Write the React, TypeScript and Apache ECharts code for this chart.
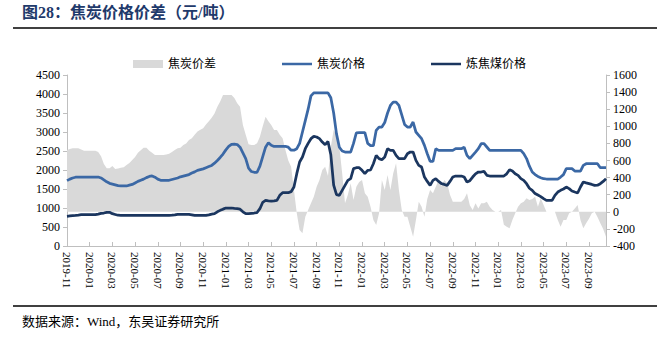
import React, { useEffect, useRef } from "react";
import * as echarts from "echarts";

// Month tick labels (one category per week, four per month)
const monthLabels: string[] = [
  "2019-11", "2019-12",
  "2020-01", "2020-02", "2020-03", "2020-04", "2020-05", "2020-06",
  "2020-07", "2020-08", "2020-09", "2020-10", "2020-11", "2020-12",
  "2021-01", "2021-02", "2021-03", "2021-04", "2021-05", "2021-06",
  "2021-07", "2021-08", "2021-09", "2021-10", "2021-11", "2021-12",
  "2022-01", "2022-02", "2022-03", "2022-04", "2022-05", "2022-06",
  "2022-07", "2022-08", "2022-09", "2022-10", "2022-11", "2022-12",
  "2023-01", "2023-02", "2023-03", "2023-04", "2023-05", "2023-06",
  "2023-07", "2023-08", "2023-09", "2023-10",
];
const weeksPerMonth = 4;
const pointCount = 191;
const categories: string[] = monthLabels
  .flatMap((m) => [m, m + " W2", m + " W3", m + " W4"])
  .slice(0, pointCount);

// 焦炭价格 (元/吨, left axis)
const cokePrice: number[] = [
  1720, 1760, 1790, 1810, 1815, 1815, 1815, 1815, 1815, 1815, 1815, 1815,
  1790, 1740, 1690, 1650, 1630, 1610, 1590, 1580, 1580, 1580, 1600, 1620,
  1660, 1700, 1730, 1760, 1800, 1830, 1845, 1810, 1760, 1730, 1730, 1730,
  1730, 1750, 1770, 1790, 1820, 1840, 1860, 1880, 1920, 1950, 1990, 2010,
  2030, 2060, 2090, 2120, 2180, 2250, 2330, 2420, 2530, 2620, 2675, 2680,
  2670, 2600, 2450, 2300, 2050, 1960, 1940, 1940, 2100, 2350, 2600, 2720,
  2650, 2620, 2620, 2620, 2620, 2620, 2600, 2520, 2520, 2560, 2700, 3000,
  3300, 3600, 3950, 4030, 4030, 4030, 4030, 4030, 4030, 3900, 3500, 2950,
  2600, 2500, 2473, 2473, 2473, 2700, 2980, 2985, 2985, 2985, 2700, 2640,
  2640, 3043, 3131, 3131, 3250, 3500, 3700, 3789, 3789, 3700, 3450, 3200,
  3131, 3131, 3262, 3000, 2912, 2824, 2649, 2429, 2228, 2228, 2561, 2517,
  2517, 2517, 2517, 2517, 2517, 2561, 2561, 2561, 2600, 2385, 2298, 2385,
  2470, 2561, 2692, 2692, 2605, 2517, 2517, 2517, 2517, 2517, 2517, 2517,
  2517, 2517, 2517, 2517, 2517, 2430, 2300, 2100, 1947, 1880, 1830, 1798,
  1770, 1763, 1763, 1763, 1763, 1763, 1815, 1877, 2035, 2035, 2035, 1973,
  1973, 1973, 2122, 2166, 2166, 2166, 2166, 2166, 2061, 2061, 2061,
];

// 炼焦煤价格 (元/吨, left axis)
const coalPrice: number[] = [
  780, 790, 800, 807, 815, 824, 824, 824, 824, 824, 824, 840,
  860, 868, 886, 886, 850, 830, 810, 807, 807, 807, 807, 807,
  807, 807, 807, 807, 807, 807, 807, 807, 807, 807, 807, 807,
  807, 810, 820, 833, 833, 833, 833, 833, 820, 807, 807, 807,
  807, 807, 820, 840, 850, 900, 938, 970, 1000, 1000, 1000, 990,
  982, 970, 900, 850, 850, 860, 868, 880, 982, 1150, 1200, 1190,
  1184, 1190, 1200, 1333, 1403, 1403, 1403, 1430, 1552, 1903, 2210, 2342,
  2561, 2700, 2824, 2885, 2868, 2824, 2736, 2666, 2750, 2400, 1600, 1350,
  1333, 1465, 1596, 1728, 1772, 2035, 2061, 2061, 1991, 1903, 1991, 2000,
  2166, 2385, 2300, 2271, 2342, 2561, 2517, 2517, 2385, 2298, 2298, 2298,
  2429, 2473, 2473, 2254, 2122, 2078, 1815, 1700, 1596, 1728, 1772, 1700,
  1640, 1620, 1596, 1700, 1815, 1842, 1842, 1842, 1815, 1684, 1720, 1815,
  1900, 1947, 1947, 1965, 1860, 1842, 1842, 1842, 1842, 1842, 1842, 1900,
  2008, 1973, 1900, 1859, 1772, 1728, 1640, 1520, 1465, 1380, 1340, 1300,
  1245, 1201, 1201, 1201, 1333, 1420, 1465, 1500, 1552, 1510, 1447, 1420,
  1394, 1552, 1684, 1660, 1640, 1620, 1596, 1600, 1640, 1700, 1772,
];

// 焦炭价差 (元/吨, right axis)
const cokeSpread: number[] = [
  723, 735, 742, 742, 742, 730, 715, 715, 715, 715, 715, 700,
  650, 560, 510, 508, 535, 500, 505, 515, 520, 547, 570, 606,
  640, 690, 720, 750, 750, 715, 690, 665, 665, 665, 665, 670,
  680, 700, 723, 742, 750, 781, 800, 840, 860, 900, 938, 960,
  977, 1020, 1060, 1100, 1150, 1230, 1290, 1366, 1366, 1366, 1366, 1330,
  1269, 1230, 1015, 900, 790, 781, 781, 801, 879, 1000, 1113, 1060,
  1015, 957, 957, 900, 859, 723, 600, 528, 255, -18, -213, -252,
  -57, 20, 100, 177, 294, 372, 489, 528, 420, 760, 957, 900,
  760, 450, 100, 200, 333, 138, 294, 350, 372, 216, 177, 60,
  -96, -155, -18, 372, 255, 430, 255, 450, 567, 255, 21, -57,
  -57, -174, -291, -96, 119, 60, -57, 150, 255, 216, 294, 372,
  300, 372, 333, 200, 119, 119, 119, 119, 150, 216, 78, 20,
  99, 40, 99, 99, 119, 60, 20, 0, 0, 20, -150, -174,
  -193, -96, -18, 60, 99, 119, 158, 138, 150, 177, 60, 158,
  80, 0, 0, 0, 0, -96, -174, -96, -96, -18, 0, 40,
  79, -96, -193, -135, -80, -18, 0, -60, -135, -200, -291,
];

const leftTicks = { min: 0, max: 4500, interval: 500 };
const rightTicks = { min: -400, max: 1600, interval: 200 };

const serif = "'Liberation Serif', 'Noto Sans CJK SC', serif";
const AXIS_GREY = "#bfbfbf";
const COKE_BLUE = "#3b68a5";
const COAL_NAVY = "#1b365f";
const SPREAD_GREY = "#d9d9d9";
// thin bar inside a 30x8 legend box (invisible corner points keep the box size)
const LINE_ICON = "path://M0,0L0,0M0,2.75L30,2.75L30,5.25L0,5.25ZM30,8L30,8";

export default function App() {
  const ref = useRef<HTMLDivElement>(null);

  useEffect(() => {
    if (!ref.current) return;
    const chart = echarts.init(ref.current, undefined, { renderer: "svg" });
    const showTick = (i: number) => i % (weeksPerMonth * 2) === 0;

    chart.setOption({
      animation: false,
      backgroundColor: "#ffffff",
      grid: { left: 67, right: 51, top: 75, bottom: 91, containLabel: false },
      legend: {
        left: 128,
        top: 53,
        itemWidth: 30,
        itemHeight: 8,
        itemGap: 66,
        textStyle: { fontFamily: serif, fontSize: 12, color: "#000" },
        data: [
          { name: "焦炭价差", icon: "rect" },
          { name: "焦炭价格", icon: LINE_ICON },
          { name: "炼焦煤价格", icon: LINE_ICON },
        ],
      },
      xAxis: {
        type: "category",
        data: categories,
        boundaryGap: false,
        axisLine: { onZero: false, lineStyle: { color: AXIS_GREY, width: 1 } },
        axisTick: {
          show: true,
          inside: true,
          length: 4,
          interval: (i: number) => showTick(i),
          lineStyle: { color: AXIS_GREY },
        },
        axisLabel: {
          interval: (i: number) => showTick(i),
          rotate: -90,
          fontFamily: serif,
          fontSize: 11,
          color: "#000",
          margin: 6,
          formatter: (v: string) => v.slice(0, 7),
        },
        splitLine: { show: false },
      },
      yAxis: [
        {
          type: "value",
          ...leftTicks,
          axisLine: { show: true, lineStyle: { color: AXIS_GREY } },
          axisTick: { show: true, length: 4, lineStyle: { color: AXIS_GREY } },
          axisLabel: {
            fontFamily: serif,
            fontSize: 12,
            color: "#000",
            margin: 7,
            formatter: (v: number) => String(v),
          },
          splitLine: { show: false },
        },
        {
          type: "value",
          ...rightTicks,
          axisLine: { show: true, lineStyle: { color: AXIS_GREY } },
          axisTick: { show: true, length: 4, lineStyle: { color: AXIS_GREY } },
          axisLabel: {
            fontFamily: serif,
            fontSize: 12,
            color: "#000",
            margin: 7,
            formatter: (v: number) => String(v),
          },
          splitLine: { show: false },
        },
      ],
      series: [
        {
          name: "焦炭价差",
          type: "line",
          yAxisIndex: 1,
          data: cokeSpread,
          symbol: "none",
          lineStyle: { width: 0 },
          itemStyle: { color: SPREAD_GREY },
          areaStyle: { color: SPREAD_GREY, opacity: 1 },
          z: 1,
        },
        {
          name: "焦炭价格",
          type: "line",
          yAxisIndex: 0,
          data: cokePrice,
          symbol: "none",
          lineStyle: { width: 2.75, color: COKE_BLUE },
          itemStyle: { color: COKE_BLUE },
          z: 3,
        },
        {
          name: "炼焦煤价格",
          type: "line",
          yAxisIndex: 0,
          data: coalPrice,
          symbol: "none",
          lineStyle: { width: 2.75, color: COAL_NAVY },
          itemStyle: { color: COAL_NAVY },
          z: 4,
        },
      ],
      graphic: [
        {
          type: "text",
          left: 22,
          top: 4,
          style: {
            text: "图28：焦炭价格价差（元/吨）",
            fontFamily: serif,
            fontSize: 16,
            fontWeight: "bold",
            fill: "#1f3a6b",
          },
        },
        {
          type: "line",
          shape: { x1: 13, y1: 28, x2: 657, y2: 28 },
          style: { stroke: "#000", lineWidth: 1.5 },
        },
        {
          type: "line",
          shape: { x1: 13, y1: 306, x2: 657, y2: 306 },
          style: { stroke: "#000", lineWidth: 1.5 },
        },
        {
          type: "text",
          left: 22,
          top: 315,
          style: {
            text: "数据来源：Wind，东吴证券研究所",
            fontFamily: serif,
            fontSize: 13,
            fill: "#000",
          },
        },
      ],
    });

    return () => chart.dispose();
  }, []);

  return (
    <div
      ref={ref}
      style={{ position: "fixed", left: 0, top: 0, width: 657, height: 337, background: "#fff" }}
    />
  );
}
